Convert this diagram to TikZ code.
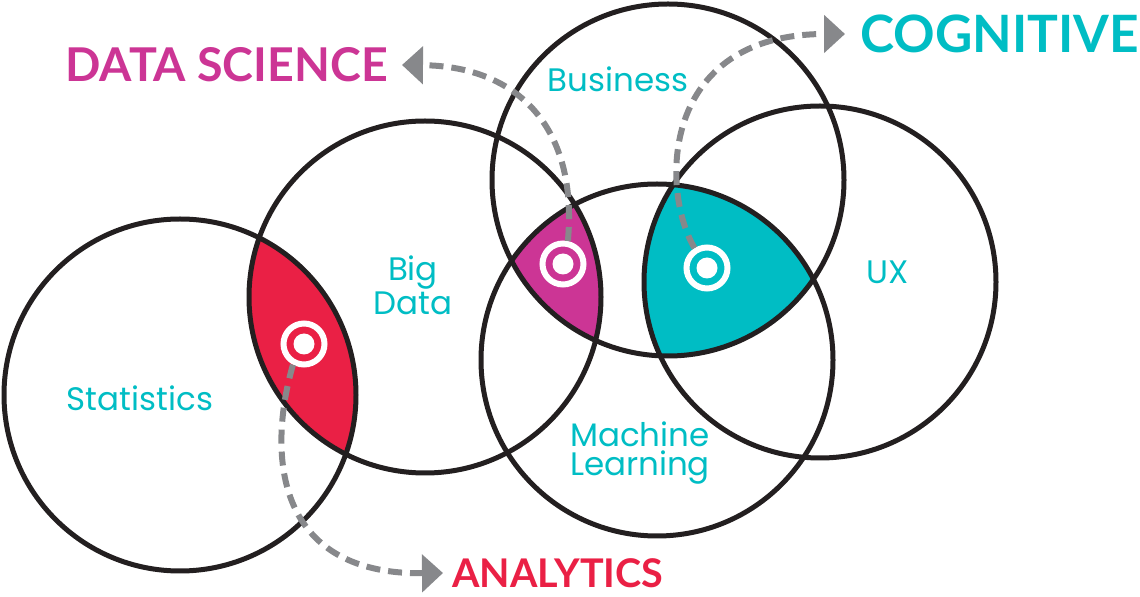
\documentclass[tikz,border=0pt]{standalone}
\usepackage{fontspec}
\setsansfont{Poppins}
\newfontfamily\headfont{Lato}
\usetikzlibrary{arrows.meta}
\definecolor{VennRed}{HTML}{EA2045}
\definecolor{VennMagenta}{HTML}{CC3595}
\definecolor{VennCyan}{HTML}{00BDC4}
\definecolor{VennGray}{HTML}{87888B}
\definecolor{VennInk}{HTML}{231F20}

\begin{document}
\begin{tikzpicture}[
    x=0.02cm, y=-0.02cm,
    font=\sffamily,
    >={Triangle[length=0.42cm, width=0.74cm]},
    % Set Styles
    setline/.style={VennInk, line width=0.1cm},
    setname/.style={VennCyan, font=\sffamily\fontsize{18.5}{19.5}\selectfont, align=center, inner sep=0pt},
    heading/.style={font=\headfont\bfseries\fontsize{#1}{#1}\selectfont, inner sep=0pt},
    % Marker Styles
    target/.style={circle, draw=white, line width=0.12cm, fill=#1, minimum size=0.82cm, inner sep=0pt,
        path picture={\fill[white] (path picture bounding box.center) circle (0.21cm);}},
    pointer/.style={->, VennGray, line width=0.12cm, dash pattern=on 0.28cm off 0.16cm}
]
    \useasboundingbox (0,0) rectangle (1140,597);

    % ==========================================
    % SETS
    % ==========================================
    \coordinate (stat) at (180,395);
    \coordinate (bigdata) at (425,297);
    \coordinate (business) at (668,180);
    \coordinate (ml) at (657,360);
    \coordinate (ux) at (820,282);

    % Statistics & Big Data
    \begin{scope}
        \clip (stat) circle[radius=176];
        \fill[VennRed] (bigdata) circle[radius=176];
    \end{scope}

    % Big Data, Business & Machine Learning
    \begin{scope}
        \clip (bigdata) circle[radius=176];
        \clip (business) circle[radius=176];
        \fill[VennMagenta] (ml) circle[radius=176];
    \end{scope}

    % Business, Machine Learning & UX
    \begin{scope}
        \clip (business) circle[radius=176];
        \clip (ux) circle[radius=176];
        \fill[VennCyan] (ml) circle[radius=176];
    \end{scope}

    \foreach \c in {stat, bigdata, business, ml, ux}
        \draw[setline] (\c) circle[radius=176];

    \node[setname] (statname) at (140,398) {Statistics};
    \node[setname, font=\sffamily\fontsize{18.5}{19.3}\selectfont] (bigdataname) at (413,285) {Big\\Data};
    \node[setname] (businessname) at (618,79) {Business};
    \node[setname, font=\sffamily\fontsize{18.5}{16.5}\selectfont] (mlname) at (640,453) {Machine\\Learning};
    \node[setname] (uxname) at (888,272) {UX};

    % ==========================================
    % FIELDS
    % ==========================================
    \node[heading=26.5, VennMagenta, anchor=east] (datascience) at (388,65) {DATA SCIENCE};
    \node[heading=22.5, VennRed, anchor=west] (analytics) at (452,573) {ANALYTICS};
    \node[heading=29.3, VennCyan, anchor=west] (cognitive) at (860,34) {COGNITIVE};

    \node[target=VennRed] (redmark) at (304,344) {};
    \node[target=VennMagenta] (magentamark) at (563,264) {};
    \node[target=VennCyan] (cyanmark) at (707,268) {};

    \draw[pointer] (redmark.-118) .. controls (268,450) and (272,575) .. ([xshift=-0.18cm]analytics.west);
    \draw[pointer] (magentamark.78) .. controls (578,130) and (520,66) .. ([xshift=0.28cm]datascience.east);
    \draw[pointer] (cyanmark.122) .. controls (660,190) and (660,34) .. ([xshift=-0.3cm]cognitive.west);

\end{tikzpicture}
\end{document}
